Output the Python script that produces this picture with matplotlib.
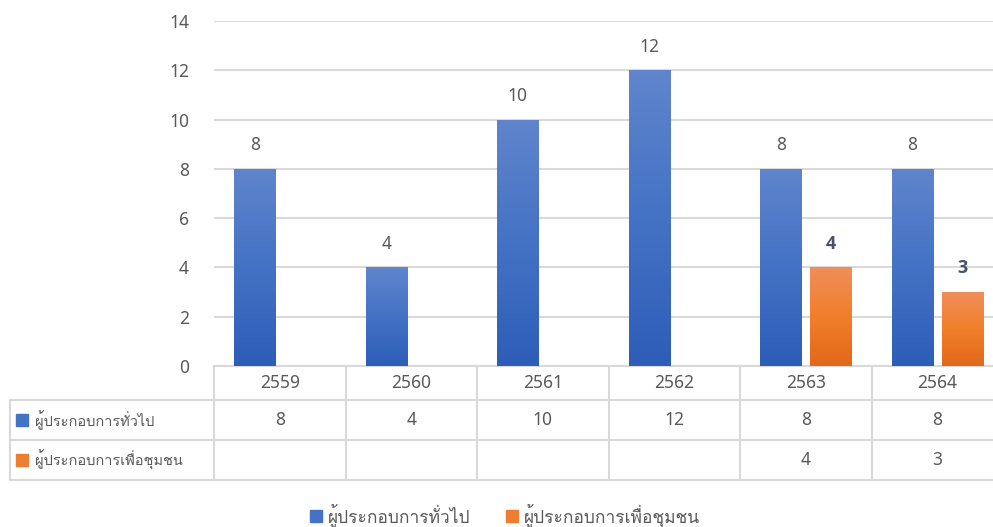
import numpy as np
import matplotlib
matplotlib.use("Agg")
import matplotlib.pyplot as plt
from matplotlib import font_manager
from matplotlib.colors import LinearSegmentedColormap
from matplotlib.transforms import blended_transform_factory
from matplotlib.lines import Line2D

# data
years = ["2559", "2560", "2561", "2562", "2563", "2564"]
general = [8, 4, 10, 12, 8, 8]
community = [None, None, None, None, 4, 3]
series_names = ["ผู้ประกอบการทั่วไป", "ผู้ประกอบการเพื่อชุมชน"]
yticks = [0, 2, 4, 6, 8, 10, 12, 14]


# find some installed font that has thai glyphs
def find_thai_font():
    try:
        from fontTools.ttLib import TTFont
    except ImportError:
        return None
    for f in font_manager.fontManager.ttflist:
        try:
            tt = TTFont(f.fname, fontNumber=0, lazy=True)
            cmap = tt.getBestCmap()
            if cmap and 0x0E1C in cmap and 0x0E1B in cmap:
                return f.name
        except Exception:
            continue
    return None


thai = find_thai_font()
fams = ["Noto Sans"] + ([thai] if thai else []) + ["DejaVu Sans"]
plt.rcParams["font.family"] = fams

txt = "#595959"
grid = "#d9d9d9"
num_fs = 12.5
table_thai_fs = 10.5
legend_thai_fs = 12.5
blue_cmap = LinearSegmentedColormap.from_list("b", ["#2e5db8", "#4472c4", "#6085cd"])
orange_cmap = LinearSegmentedColormap.from_list("o", ["#e2681a", "#f07f2a", "#f08d5a"])

fig = plt.figure(figsize=(9.93, 5.27), dpi=100)
ax = fig.add_axes([214 / 993, 161 / 527, 789 / 993, 345 / 527])

x = np.arange(len(years))
w = 0.313
off = 0.19


def gradient_bars(bars, cmap):
    grad = np.linspace(0, 1, 256).reshape(-1, 1)
    for b in bars:
        x0, y0 = b.get_x(), b.get_y()
        bw, bh = b.get_width(), b.get_height()
        if bh <= 0:
            continue
        im = ax.imshow(grad, cmap=cmap, origin="lower", aspect="auto",
                       extent=(x0, x0 + bw, y0, y0 + bh), zorder=3)
        im.set_clip_path(b)
        b.set_facecolor("none")


b1 = ax.bar(x - off, general, w, color="#4472c4", zorder=2)
comm_x = [xi + off for xi, v in zip(x, community) if v is not None]
comm_v = [v for v in community if v is not None]
b2 = ax.bar(comm_x, comm_v, w, color="#ed7d31", zorder=2)
gradient_bars(b1, blue_cmap)
gradient_bars(b2, orange_cmap)

for xi, v in zip(x - off, general):
    ax.annotate(str(v), (xi, v), xytext=(0, 17), textcoords="offset points",
                ha="center", va="center", fontsize=num_fs, color=txt)
for xi, v in zip(comm_x, comm_v):
    ax.annotate(str(v), (xi, v), xytext=(0, 17), textcoords="offset points",
                ha="center", va="center", fontsize=13, color="#44546a",
                fontweight="bold", family=["Open Sans", "DejaVu Sans"])

ax.set_xlim(-0.5, len(years) - 0.5)
ax.set_ylim(0, 14)
ax.set_yticks(yticks)
ax.set_xticks([])
ax.tick_params(axis="y", length=0, pad=18, labelsize=num_fs, labelcolor=txt)
for s in ["top", "right", "left"]:
    ax.spines[s].set_visible(False)
ax.spines["bottom"].set_color(grid)
ax.spines["bottom"].set_linewidth(1.5)
ax.yaxis.grid(True, color=grid, lw=1.5)
ax.set_axisbelow(True)

# data table under the plot
tr = blended_transform_factory(ax.transData, ax.transAxes)
ppx = 1 / 345.0
row_lines = [-34 * ppx, -74 * ppx, -114 * ppx]
left_x = -0.5 - 204 / 131.5
lkw = dict(color=grid, lw=1.5, transform=tr, clip_on=False)
for yl in row_lines:
    ax.add_line(Line2D([left_x, 5.5], [yl, yl], **lkw))
ax.add_line(Line2D([left_x, left_x], [row_lines[0], row_lines[2]], **lkw))
for i in range(len(years) + 1):
    xb = i - 0.5
    ax.add_line(Line2D([xb, xb], [0, row_lines[2]], **lkw))

hdr_y = -17 * ppx
r1_y = -54 * ppx
r2_y = -94 * ppx
for i, yr in enumerate(years):
    ax.text(i, hdr_y, yr, transform=tr, ha="center", va="center",
            fontsize=num_fs, color=txt, clip_on=False)
    ax.text(i, r1_y, str(general[i]), transform=tr, ha="center", va="center",
            fontsize=num_fs, color=txt, clip_on=False)
    if community[i] is not None:
        ax.text(i, r2_y, str(community[i]), transform=tr, ha="center",
                va="center", fontsize=num_fs, color=txt, clip_on=False)

sq_x = left_x + 12 / 131.5
lab_x = left_x + 25 / 131.5
for yy, name, c in [(r1_y, series_names[0], "#4472c4"), (r2_y, series_names[1], "#ed7d31")]:
    ax.plot([sq_x], [yy], marker="s", ms=8, color=c, transform=tr, clip_on=False)
    ax.text(lab_x, yy, name, transform=tr, ha="left", va="center",
            fontsize=table_thai_fs, color=txt, clip_on=False)

handles = [Line2D([], [], ls="", marker="s", ms=8, color="#4472c4"),
           Line2D([], [], ls="", marker="s", ms=8, color="#ed7d31")]
fig.legend(handles, series_names, loc="lower center", bbox_to_anchor=(0.508, -0.03),
           ncol=2, frameon=False, fontsize=legend_thai_fs, labelcolor=txt,
           handlelength=0.8, handletextpad=0.3, columnspacing=2.0)

fig.savefig("out.png", dpi=100)
